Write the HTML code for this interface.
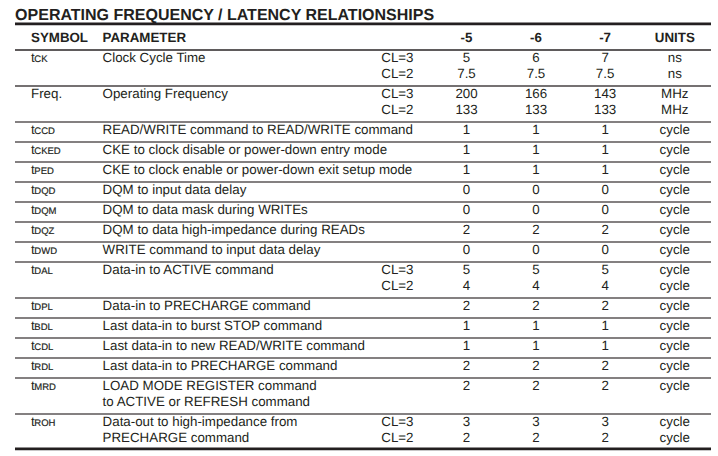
<!DOCTYPE html>
<html><head><meta charset="utf-8"><title>Operating Frequency / Latency Relationships</title>
<style>
html,body{margin:0;padding:0;background:#fff;}
body{width:718px;height:456px;position:relative;overflow:hidden;font-family:"Liberation Sans",Arial,Helvetica,sans-serif;color:#231f20;font-size:13.33px;line-height:16px;text-rendering:geometricPrecision;}
.t{position:absolute;white-space:nowrap;height:16px;}
.c{position:absolute;white-space:nowrap;height:16px;width:80px;text-align:center;}
.r{position:absolute;white-space:nowrap;height:16px;width:60px;text-align:right;}
.b{font-weight:bold;}
.s{font-size:9.5px;margin-left:-0.4px;-webkit-text-stroke:0.2px #231f20;}
.l{position:absolute;left:15px;width:696px;height:2px;background:#848081;}
.k{position:absolute;left:15px;width:696px;height:2.67px;background:#231f20;}
h1{position:absolute;margin:0;left:15.1px;top:6.6px;font-size:16px;line-height:18px;font-weight:bold;white-space:nowrap;}
</style></head><body>
<h1>OPERATING FREQUENCY / LATENCY RELATIONSHIPS</h1>
<div class="t b" style="left:31px;top:29.6px">SYMBOL</div><div class="t b" style="left:102.6px;top:29.6px">PARAMETER</div><div class="c b" style="left:426.5px;top:29.6px">-5</div><div class="c b" style="left:496px;top:29.6px">-6</div><div class="c b" style="left:565.1px;top:29.6px">-7</div><div class="c b" style="left:634.8px;top:29.6px">UNITS</div>
<div class="t" style="left:31px;top:49.6px">t<span class="s">CK</span></div><div class="t" style="left:102.6px;top:49.6px">Clock Cycle Time</div><div class="r" style="left:353.5px;top:49.6px">CL=3</div><div class="r" style="left:353.5px;top:65.6px">CL=2</div><div class="c" style="left:426.5px;top:49.6px">5</div><div class="c" style="left:496px;top:49.6px">6</div><div class="c" style="left:565.1px;top:49.6px">7</div><div class="c" style="left:634.8px;top:49.6px">ns</div><div class="c" style="left:426.5px;top:65.6px">7.5</div><div class="c" style="left:496px;top:65.6px">7.5</div><div class="c" style="left:565.1px;top:65.6px">7.5</div><div class="c" style="left:634.8px;top:65.6px">ns</div>
<div class="t" style="left:31px;top:85.6px">Freq.</div><div class="t" style="left:102.6px;top:85.6px">Operating Frequency</div><div class="r" style="left:353.5px;top:85.6px">CL=3</div><div class="r" style="left:353.5px;top:101.6px">CL=2</div><div class="c" style="left:426.5px;top:85.6px">200</div><div class="c" style="left:496px;top:85.6px">166</div><div class="c" style="left:565.1px;top:85.6px">143</div><div class="c" style="left:634.8px;top:85.6px">MHz</div><div class="c" style="left:426.5px;top:101.6px">133</div><div class="c" style="left:496px;top:101.6px">133</div><div class="c" style="left:565.1px;top:101.6px">133</div><div class="c" style="left:634.8px;top:101.6px">MHz</div>
<div class="t" style="left:31px;top:121.6px">t<span class="s">CCD</span></div><div class="t" style="left:102.6px;top:121.6px">READ/WRITE command to READ/WRITE command</div><div class="c" style="left:426.5px;top:121.6px">1</div><div class="c" style="left:496px;top:121.6px">1</div><div class="c" style="left:565.1px;top:121.6px">1</div><div class="c" style="left:634.8px;top:121.6px">cycle</div>
<div class="t" style="left:31px;top:141.6px">t<span class="s">CKED</span></div><div class="t" style="left:102.6px;top:141.6px">CKE to clock disable or power-down entry mode</div><div class="c" style="left:426.5px;top:141.6px">1</div><div class="c" style="left:496px;top:141.6px">1</div><div class="c" style="left:565.1px;top:141.6px">1</div><div class="c" style="left:634.8px;top:141.6px">cycle</div>
<div class="t" style="left:31px;top:161.6px">t<span class="s">PED</span></div><div class="t" style="left:102.6px;top:161.6px">CKE to clock enable or power-down exit setup mode</div><div class="c" style="left:426.5px;top:161.6px">1</div><div class="c" style="left:496px;top:161.6px">1</div><div class="c" style="left:565.1px;top:161.6px">1</div><div class="c" style="left:634.8px;top:161.6px">cycle</div>
<div class="t" style="left:31px;top:181.6px">t<span class="s">DQD</span></div><div class="t" style="left:102.6px;top:181.6px">DQM to input data delay</div><div class="c" style="left:426.5px;top:181.6px">0</div><div class="c" style="left:496px;top:181.6px">0</div><div class="c" style="left:565.1px;top:181.6px">0</div><div class="c" style="left:634.8px;top:181.6px">cycle</div>
<div class="t" style="left:31px;top:201.6px">t<span class="s">DQM</span></div><div class="t" style="left:102.6px;top:201.6px">DQM to data mask during WRITEs</div><div class="c" style="left:426.5px;top:201.6px">0</div><div class="c" style="left:496px;top:201.6px">0</div><div class="c" style="left:565.1px;top:201.6px">0</div><div class="c" style="left:634.8px;top:201.6px">cycle</div>
<div class="t" style="left:31px;top:221.6px">t<span class="s">DQZ</span></div><div class="t" style="left:102.6px;top:221.6px">DQM to data high-impedance during READs</div><div class="c" style="left:426.5px;top:221.6px">2</div><div class="c" style="left:496px;top:221.6px">2</div><div class="c" style="left:565.1px;top:221.6px">2</div><div class="c" style="left:634.8px;top:221.6px">cycle</div>
<div class="t" style="left:31px;top:241.6px">t<span class="s">DWD</span></div><div class="t" style="left:102.6px;top:241.6px">WRITE command to input data delay</div><div class="c" style="left:426.5px;top:241.6px">0</div><div class="c" style="left:496px;top:241.6px">0</div><div class="c" style="left:565.1px;top:241.6px">0</div><div class="c" style="left:634.8px;top:241.6px">cycle</div>
<div class="t" style="left:31px;top:261.6px">t<span class="s">DAL</span></div><div class="t" style="left:102.6px;top:261.6px">Data-in to ACTIVE command</div><div class="r" style="left:353.5px;top:261.6px">CL=3</div><div class="r" style="left:353.5px;top:277.6px">CL=2</div><div class="c" style="left:426.5px;top:261.6px">5</div><div class="c" style="left:496px;top:261.6px">5</div><div class="c" style="left:565.1px;top:261.6px">5</div><div class="c" style="left:634.8px;top:261.6px">cycle</div><div class="c" style="left:426.5px;top:277.6px">4</div><div class="c" style="left:496px;top:277.6px">4</div><div class="c" style="left:565.1px;top:277.6px">4</div><div class="c" style="left:634.8px;top:277.6px">cycle</div>
<div class="t" style="left:31px;top:297.6px">t<span class="s">DPL</span></div><div class="t" style="left:102.6px;top:297.6px">Data-in to PRECHARGE command</div><div class="c" style="left:426.5px;top:297.6px">2</div><div class="c" style="left:496px;top:297.6px">2</div><div class="c" style="left:565.1px;top:297.6px">2</div><div class="c" style="left:634.8px;top:297.6px">cycle</div>
<div class="t" style="left:31px;top:317.6px">t<span class="s">BDL</span></div><div class="t" style="left:102.6px;top:317.6px">Last data-in to burst STOP command</div><div class="c" style="left:426.5px;top:317.6px">1</div><div class="c" style="left:496px;top:317.6px">1</div><div class="c" style="left:565.1px;top:317.6px">1</div><div class="c" style="left:634.8px;top:317.6px">cycle</div>
<div class="t" style="left:31px;top:337.6px">t<span class="s">CDL</span></div><div class="t" style="left:102.6px;top:337.6px">Last data-in to new READ/WRITE command</div><div class="c" style="left:426.5px;top:337.6px">1</div><div class="c" style="left:496px;top:337.6px">1</div><div class="c" style="left:565.1px;top:337.6px">1</div><div class="c" style="left:634.8px;top:337.6px">cycle</div>
<div class="t" style="left:31px;top:357.6px">t<span class="s">RDL</span></div><div class="t" style="left:102.6px;top:357.6px">Last data-in to PRECHARGE command</div><div class="c" style="left:426.5px;top:357.6px">2</div><div class="c" style="left:496px;top:357.6px">2</div><div class="c" style="left:565.1px;top:357.6px">2</div><div class="c" style="left:634.8px;top:357.6px">cycle</div>
<div class="t" style="left:31px;top:377.6px">t<span class="s">MRD</span></div><div class="t" style="left:102.6px;top:377.6px">LOAD MODE REGISTER command</div><div class="t" style="left:102.6px;top:393.6px">to ACTIVE or REFRESH command</div><div class="c" style="left:426.5px;top:377.6px">2</div><div class="c" style="left:496px;top:377.6px">2</div><div class="c" style="left:565.1px;top:377.6px">2</div><div class="c" style="left:634.8px;top:377.6px">cycle</div>
<div class="t" style="left:31px;top:413.6px">t<span class="s">ROH</span></div><div class="t" style="left:102.6px;top:413.6px">Data-out to high-impedance from</div><div class="t" style="left:102.6px;top:429.6px">PRECHARGE command</div><div class="r" style="left:353.5px;top:413.6px">CL=3</div><div class="r" style="left:353.5px;top:429.6px">CL=2</div><div class="c" style="left:426.5px;top:413.6px">3</div><div class="c" style="left:496px;top:413.6px">3</div><div class="c" style="left:565.1px;top:413.6px">3</div><div class="c" style="left:634.8px;top:413.6px">cycle</div><div class="c" style="left:426.5px;top:429.6px">2</div><div class="c" style="left:496px;top:429.6px">2</div><div class="c" style="left:565.1px;top:429.6px">2</div><div class="c" style="left:634.8px;top:429.6px">cycle</div>
<svg width="718" height="456" viewBox="0 0 718 456" style="position:absolute;left:0;top:0"><g stroke="#231f20" stroke-width="2.67"><line x1="15" y1="23.8" x2="711" y2="23.8"/><line x1="15" y1="448.9" x2="711" y2="448.9"/></g><g stroke="#848081" stroke-width="2"><line x1="15" y1="50" x2="711" y2="50" stroke="#5f5b5c"/><line x1="15" y1="86" x2="711" y2="86" stroke="#757172"/><line x1="15" y1="122" x2="711" y2="122"/><line x1="15" y1="142" x2="711" y2="142"/><line x1="15" y1="162" x2="711" y2="162"/><line x1="15" y1="182" x2="711" y2="182"/><line x1="15" y1="202" x2="711" y2="202"/><line x1="15" y1="222" x2="711" y2="222"/><line x1="15" y1="242" x2="711" y2="242"/><line x1="15" y1="262" x2="711" y2="262"/><line x1="15" y1="298" x2="711" y2="298"/><line x1="15" y1="318" x2="711" y2="318"/><line x1="15" y1="338" x2="711" y2="338"/><line x1="15" y1="358" x2="711" y2="358"/><line x1="15" y1="378" x2="711" y2="378"/><line x1="15" y1="414" x2="711" y2="414"/></g></svg>
</body></html>
